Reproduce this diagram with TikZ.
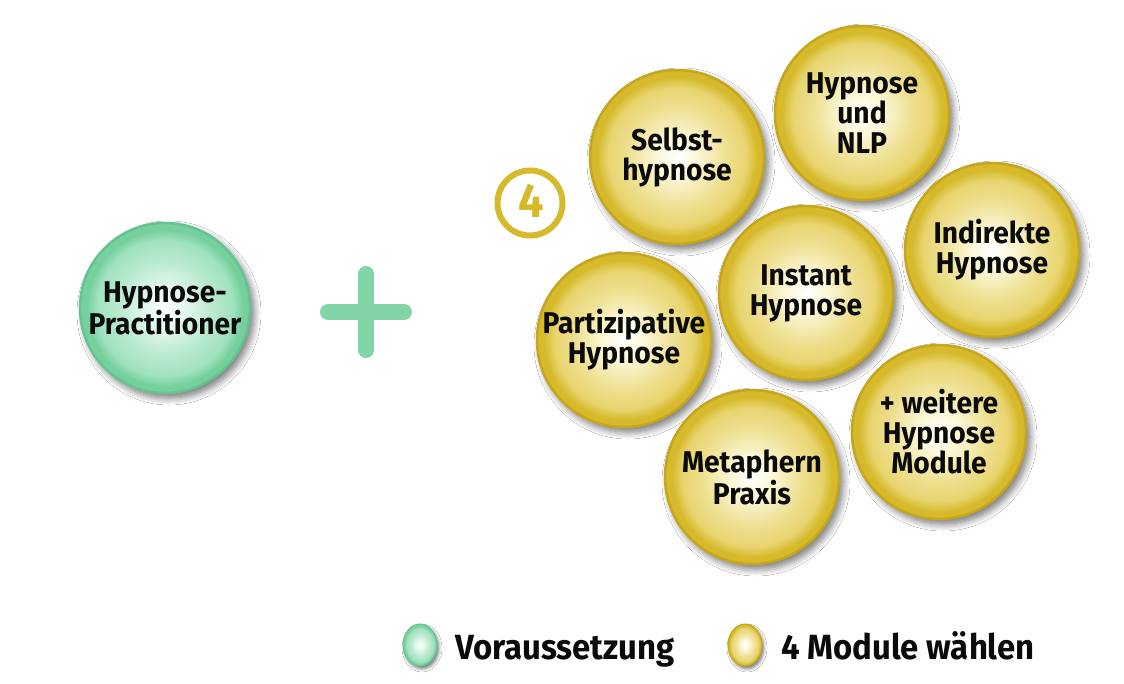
\documentclass[tikz,border=0pt]{standalone}
\usepackage{fontspec}
\setmainfont{Fira Sans}
\newfontfamily\df[FakeStretch=0.94]{Fira Sans}
\usetikzlibrary{shadows.blur,shapes.geometric}
\definecolor{yedge}{RGB}{214,186,44}
\definecolor{ymid}{RGB}{232,212,110}
\definecolor{ylight}{RGB}{252,247,215}
\definecolor{yrim}{RGB}{198,166,28}
\definecolor{gedge}{RGB}{118,208,158}
\definecolor{gmid}{RGB}{160,226,190}
\definecolor{glight}{RGB}{228,248,237}
\definecolor{grim}{RGB}{100,196,144}
\definecolor{plusg}{RGB}{128,212,166}
\definecolor{txt}{RGB}{10,10,10}
\pgfdeclareradialshading{yballsh}{\pgfpoint{0bp}{0bp}}{color(0bp)=(white); color(6bp)=(ylight); color(14bp)=(ymid!65!ylight); color(20bp)=(ymid); color(23bp)=(yedge); color(50bp)=(yedge)}
\pgfdeclareradialshading{gballsh}{\pgfpoint{0bp}{0bp}}{color(0bp)=(white); color(6bp)=(glight); color(14bp)=(gmid!65!glight); color(20bp)=(gmid); color(23bp)=(gedge); color(50bp)=(gedge)}
\tikzset{
  ball/.style={circle, minimum size=174pt, inner sep=0pt, line width=2.5pt, align=center,
    font=\df\bfseries\fontsize{30}{30}\selectfont, text=txt,
    blur shadow={shadow xshift=4pt, shadow yshift=-5pt, shadow blur radius=7pt, shadow blur steps=10, shadow opacity=55}},
  yball/.style={ball, draw=yrim, shading=yballsh},
  gball/.style={ball, draw=grim, shading=gballsh, minimum size=170pt},
  lgball/.style={ellipse, minimum width=34pt, minimum height=42pt, inner sep=0pt, line width=1pt,
    blur shadow={shadow xshift=2pt, shadow yshift=-3pt, shadow blur radius=3pt, shadow opacity=50}},
  legtext/.style={anchor=base west, font=\df\bfseries\fontsize{35}{40}\selectfont, text=txt, inner sep=0pt},
}
\begin{document}
\begin{tikzpicture}[x=1pt,y=-1pt]
\useasboundingbox[fill=white] (0,0) rectangle (1124,684);
% prerequisite
\node[gball] (prac) at (165,308) {Hypnose-\\Practitioner};
% plus
\coordinate (ph1) at (328,312); \coordinate (ph2) at (404,312);
\coordinate (pv1) at (366,274); \coordinate (pv2) at (366,350);
\draw[plusg, line width=16pt, line cap=round] (ph1) -- (ph2) (pv1) -- (pv2);
% number 4
\node[circle, draw=yedge, line width=6pt, minimum size=65pt, inner sep=0pt, text=yedge] (four) at (530,203) {};
\node[text=yedge, inner sep=0pt, anchor=base, font=\df\bfseries\fontsize{48}{48}\selectfont] (fourtxt) at (531,218) {4};
% modules
\node[yball] (selbst) at (677,157) {Selbst-\\hypnose};
\node[yball] (nlp) at (862,113) {Hypnose\\und\\NLP};
\node[yball] (indir) at (992,250) {Indirekte\\Hypnose};
\node[yball] (inst) at (806,293) {Instant\\Hypnose};
\node[yball] (part) at (624,340) {Partizipative\\Hypnose};
\node[yball] (weit) at (939,432) {+ weitere\\Hypnose\\Module};
\node[yball] (meta) at (752,477) {Metaphern\\Praxis};
% legend
\node[lgball, draw=grim, shading=gballsh] (lg) at (420,645) {};
\node[legtext] (lgt) at (455,659) {Voraussetzung};
\node[lgball, draw=yrim, shading=yballsh] (ly) at (745,645) {};
\node[legtext] (lyt) at (781,659) {4 Module wählen};
\end{tikzpicture}
\end{document}
